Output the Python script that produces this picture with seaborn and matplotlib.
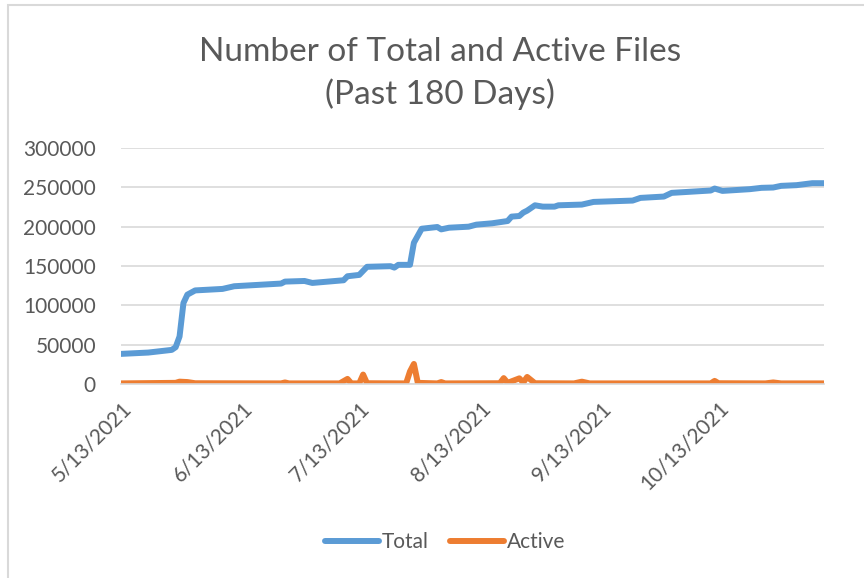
import matplotlib
matplotlib.use("Agg")
import matplotlib.pyplot as plt
import matplotlib.dates as mdates
from matplotlib.patches import Rectangle
from matplotlib.lines import Line2D
import pandas as pd
import seaborn as sns

# values
total_dates = [
    "2021-05-13", "2021-05-20", "2021-05-26", "2021-05-27", "2021-05-28", "2021-05-29",
    "2021-05-30", "2021-06-01", "2021-06-08", "2021-06-11", "2021-06-17", "2021-06-23",
    "2021-06-24", "2021-06-29", "2021-07-01", "2021-07-09", "2021-07-10", "2021-07-13",
    "2021-07-15", "2021-07-21", "2021-07-22", "2021-07-23", "2021-07-26", "2021-07-27",
    "2021-07-29", "2021-08-02", "2021-08-03", "2021-08-05", "2021-08-10", "2021-08-12",
    "2021-08-16", "2021-08-20", "2021-08-21", "2021-08-23", "2021-08-24", "2021-08-25",
    "2021-08-27", "2021-08-29", "2021-09-01", "2021-09-02", "2021-09-08", "2021-09-11",
    "2021-09-21", "2021-09-23", "2021-09-29", "2021-10-01", "2021-10-11", "2021-10-12",
    "2021-10-14", "2021-10-21", "2021-10-24", "2021-10-27", "2021-10-29", "2021-11-02",
    "2021-11-06", "2021-11-09",
]
total_values = [
    38300, 40000, 43400, 46800, 60400, 103000,
    113600, 119000, 120900, 124300, 126000, 127700,
    130200, 131000, 128500, 131900, 137000, 138700,
    149000, 149800, 148000, 151500, 151500, 179600,
    197400, 199600, 196600, 198700, 200000, 202600,
    204300, 207200, 212800, 213600, 217900, 220400,
    227200, 225500, 225500, 227200, 228100, 231500,
    233200, 236600, 238300, 243000, 246000, 248500,
    245500, 247700, 249400, 249800, 251900, 252800,
    255300, 255300,
]

active_dates = [
    "2021-05-13", "2021-05-27", "2021-05-28", "2021-05-30", "2021-06-01", "2021-06-23",
    "2021-06-24", "2021-06-25", "2021-07-08", "2021-07-10", "2021-07-11", "2021-07-13",
    "2021-07-14", "2021-07-15", "2021-07-25", "2021-07-26", "2021-07-27", "2021-07-28",
    "2021-08-02", "2021-08-03", "2021-08-04", "2021-08-18", "2021-08-19", "2021-08-20",
    "2021-08-23", "2021-08-24", "2021-08-25", "2021-08-26", "2021-08-27", "2021-09-06",
    "2021-09-08", "2021-09-10", "2021-10-11", "2021-10-12", "2021-10-13", "2021-10-25",
    "2021-10-27", "2021-10-29", "2021-11-09",
]
active_values = [
    800, 1500, 3000, 2500, 1000, 800,
    2000, 800, 800, 6500, 800, 800,
    12000, 1000, 800, 16000, 25500, 1500,
    800, 2500, 800, 1000, 7500, 1500,
    7200, 2000, 9000, 5000, 1000, 800,
    3000, 800, 800, 4000, 1000, 800,
    2000, 800, 800,
]

series_names = ["Total", "Active"]
series_colors = ["#5B9BD5", "#ED7D31"]
y_ticks = [0, 50000, 100000, 150000, 200000, 250000, 300000]

df = pd.concat([
    pd.DataFrame({"Date": pd.to_datetime(total_dates), "Files": total_values, "Series": "Total"}),
    pd.DataFrame({"Date": pd.to_datetime(active_dates), "Files": active_values, "Series": "Active"}),
], ignore_index=True)

sns.set_theme(style="white")
plt.rcParams["font.family"] = ["Lato", "DejaVu Sans"]
text_color = "#595959"
grid_color = "#D9D9D9"

fig = plt.figure(figsize=(8.64, 5.78), dpi=100)
ax = fig.add_axes([0.1400, 0.3356, 0.8137, 0.4083])

sns.lineplot(data=df, x="Date", y="Files", hue="Series", hue_order=series_names,
             palette=series_colors, linewidth=4.3, sort=False, legend=False, ax=ax)
for line in ax.lines:
    line.set_solid_capstyle("round")
    line.set_solid_joinstyle("round")

ax.set_xlim(pd.Timestamp(total_dates[0]), pd.Timestamp(total_dates[-1]))
ax.set_ylim(0, 300000)
ax.set_yticks(y_ticks)
ax.set_yticklabels([str(v) for v in y_ticks])
ax.yaxis.grid(True, color=grid_color, linewidth=1.2)
ax.set_axisbelow(True)

ax.xaxis.set_major_locator(mdates.MonthLocator(bymonthday=13))
ax.xaxis.set_major_formatter(plt.FuncFormatter(
    lambda v, pos: (lambda d: f"{d.month}/{d.day}/{d.year}")(mdates.num2date(v))))

for side in ["top", "right", "left"]:
    ax.spines[side].set_visible(False)
ax.spines["bottom"].set_color(grid_color)
ax.spines["bottom"].set_linewidth(1.2)

ax.tick_params(axis="y", length=0, pad=18, labelsize=15, labelcolor=text_color)
ax.tick_params(axis="x", length=6, width=1.2, color=grid_color, pad=4,
               labelsize=15, labelcolor=text_color)
for lbl in ax.get_xticklabels():
    lbl.set_rotation(45)
    lbl.set_ha("right")
    lbl.set_rotation_mode("anchor")
ax.set_xlabel("")
ax.set_ylabel("")

fig.text(0.509, 0.873, "Number of Total and Active Files\n(Past 180 Days)",
         ha="center", va="center", fontsize=24, color=text_color, linespacing=1.45)

handles = [Line2D([], [], color=c, linewidth=4.3, solid_capstyle="round") for c in series_colors]
fig.legend(handles, series_names, loc="center", bbox_to_anchor=(0.515, 0.062),
           ncol=2, frameon=False, fontsize=15, labelcolor=text_color,
           handlelength=2.6, handletextpad=0.15, columnspacing=1.0)

fig.patches.append(Rectangle((8 / 864, -0.1), 1.2, 1.1 - 5 / 578, transform=fig.transFigure,
                             fill=False, edgecolor=grid_color, linewidth=1.5))

fig.savefig("out.png", dpi=100)
